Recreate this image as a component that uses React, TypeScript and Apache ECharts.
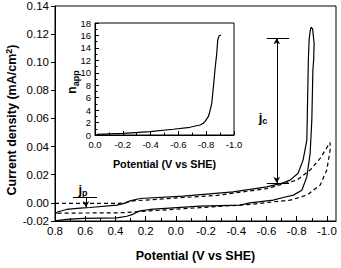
import React, { useEffect, useRef } from "react";
import * as echarts from "echarts";

// Main CV: solid loop (potential V vs SHE, current density mA/cm2)
const solidV = [0.80, 0.78, 0.723, 0.634, 0.568, 0.391, 0.336, 0.303, 0.237, -0.048, -0.379, -0.602, -0.710, -0.756, -0.809, -0.842, -0.867, -0.872, -0.877, -0.882, -0.889, -0.895, -0.905, -0.915, -0.912, -0.907, -0.900, -0.889, -0.867, -0.834, -0.778, -0.710, -0.644, -0.491, -0.425, -0.160, 0.171, 0.237, 0.259, 0.290, 0.325, 0.391, 0.613, 0.723, 0.80];
const solidJ = [-0.0080, -0.0063, -0.0047, -0.0038, -0.0033, -0.0016, -0.0002, 0.0014, 0.0031, 0.0048, 0.0078, 0.0114, 0.0142, 0.0162, 0.0211, 0.0304, 0.0446, 0.0731, 0.1016, 0.1158, 0.1222, 0.1249, 0.1237, 0.1135, 0.1016, 0.0945, 0.0589, 0.0354, 0.0185, 0.0090, 0.0055, 0.0038, 0.0019, 0.0000, -0.0016, -0.0023, -0.0047, -0.0057, -0.0066, -0.0084, -0.0095, -0.0107, -0.0111, -0.0118, -0.0128];

// dashed loop
const dashV = [0.80, 0.391, 0.336, 0.283, 0.171, -0.048, -0.271, -0.491, -0.602, -0.644, -0.801, -0.889, -0.955, -1.010, -1.021, -1.021, -0.999, -0.955, -0.867, -0.756, -0.644, -0.491, -0.160, 0.171, 0.237, 0.283, 0.336, 0.391, 0.767, 0.80];
const dashJ = [-0.0004, -0.0004, 0.0001, 0.0014, 0.0022, 0.0038, 0.0053, 0.0085, 0.0101, 0.0114, 0.0162, 0.0233, 0.0316, 0.0411, 0.0429, 0.0375, 0.0233, 0.0126, 0.0055, 0.0019, 0.0007, -0.0011, -0.0034, -0.0057, -0.0061, -0.0065, -0.0069, -0.0071, -0.0073, -0.0077];

// inset: n_app vs potential
const insetV = [-0.012, -0.204, -0.396, -0.563, -0.683, -0.755, -0.779, -0.791, -0.815, -0.823, -0.840, -0.852, -0.863, -0.876, -0.883, -0.892, -0.906];
const insetN = [0.11, 0.27, 0.53, 0.92, 1.24, 1.61, 1.88, 2.14, 2.94, 3.49, 5.1, 7.77, 10.45, 13.13, 15.27, 15.92, 16.08];

// axis ticks
const xMajor = [-1.0, -0.8, -0.6, -0.4, -0.2, 0.0, 0.2, 0.4, 0.6, 0.8];
const xMinor = [-0.9, -0.7, -0.5, -0.3, -0.1, 0.1, 0.3, 0.5, 0.7];
const yMain = [-0.0129, 0.0, 0.02, 0.04, 0.06, 0.08, 0.10, 0.12, 0.14];
const yMainLabels = ["-0.02", "0.00", "0.02", "0.04", "0.06", "0.08", "0.10", "0.12", "0.14"];

// annotations (data coordinates)
const jcV = -0.668, jcLow = 0.0142, jcHigh = 0.117, jcBarL = -0.602, jcBarR = -0.750;
const jpV = 0.595, jpTop = 0.0043, jpBottom = -0.0031, jpBarL = 0.681, jpBarR = 0.522;

const FONT = "Liberation Sans, Arial, sans-serif";

function zip(a: number[], b: number[]) {
  return a.map((v, i) => [v, b[i]]);
}

export default function App() {
  const ref = useRef<HTMLDivElement>(null);
  useEffect(() => {
    const chart = echarts.init(ref.current!, undefined, { renderer: "svg" });
    const seg = (x1: number, y1: number, x2: number, y2: number, s1: string, s2: string) => [
      { coord: [x1, y1], symbol: s1 },
      { coord: [x2, y2], symbol: s2 },
    ];
    const axisLine = { onZero: false, lineStyle: { color: "#000", width: 1 } };
    chart.setOption({
      animation: false,
      backgroundColor: "#fff",
      grid: [
        { left: 55, top: 6, width: 281, height: 215, show: true, borderColor: "#000", borderWidth: 1, containLabel: false },
        { left: 95, top: 23, width: 139, height: 112, show: true, borderColor: "#000", borderWidth: 1, backgroundColor: "#fff", containLabel: false },
      ],
      xAxis: [
        {
          type: "value", gridIndex: 0, min: -1.06, max: 0.8, inverse: true,
          axisLine,
          axisTick: { inside: true, length: 5, customValues: xMajor, lineStyle: { color: "#000" } },
          axisLabel: {
            customValues: xMajor, color: "#000", fontSize: 11.5, fontFamily: FONT, margin: 4,
            formatter: (v: number) => (Math.abs(v) < 1e-9 ? "0.0" : v.toFixed(1)),
          },
          splitLine: { show: false },
          name: "Potential (V vs SHE)", nameLocation: "middle", nameGap: 28,
          nameTextStyle: { fontSize: 12.5, fontWeight: "bold", fontFamily: FONT, color: "#000" },
        },
        {
          type: "value", gridIndex: 0, min: -1.06, max: 0.8, inverse: true, position: "bottom",
          axisLine: { show: false, onZero: false },
          axisTick: { inside: true, length: 3, customValues: xMinor, lineStyle: { color: "#000" } },
          axisLabel: { show: false },
          splitLine: { show: false },
        },
        {
          type: "value", gridIndex: 1, min: -1.0, max: 0.0, interval: 0.2, inverse: true,
          axisLine,
          axisTick: { inside: true, length: 4, lineStyle: { color: "#000" } },
          minorTick: { show: true, splitNumber: 2, length: 2.5, lineStyle: { color: "#000" } },
          axisLabel: {
            color: "#000", fontSize: 9.5, fontFamily: FONT, margin: 4,
            formatter: (v: number) => (Math.abs(v) < 1e-9 ? "0.0" : v.toFixed(1)),
          },
          splitLine: { show: false },
          name: "Potential (V vs SHE)", nameLocation: "middle", nameGap: 23,
          nameTextStyle: { fontSize: 10.8, fontWeight: "bold", fontFamily: FONT, color: "#000" },
        },
      ],
      yAxis: [
        {
          type: "value", gridIndex: 0, min: -0.0129, max: 0.14,
          axisLine,
          axisTick: { inside: false, length: 4, customValues: yMain, lineStyle: { color: "#000" } },
          axisLabel: {
            customValues: yMain, color: "#000", fontSize: 11.5, fontFamily: FONT, margin: 6,
            formatter: (v: number) => {
              const i = yMain.findIndex((t) => Math.abs(t - v) < 1e-6);
              return i >= 0 ? yMainLabels[i] : "";
            },
          },
          splitLine: { show: false },
        },
        {
          type: "value", gridIndex: 1, min: 0, max: 18, interval: 2,
          axisLine,
          axisTick: { inside: true, length: 4, lineStyle: { color: "#000" } },
          minorTick: { show: true, splitNumber: 2, length: 2.5, lineStyle: { color: "#000" } },
          axisLabel: { color: "#000", fontSize: 9.5, fontFamily: FONT, margin: 4 },
          splitLine: { show: false },
        },
      ],
      series: [
        {
          type: "line", xAxisIndex: 0, yAxisIndex: 0, data: zip(solidV, solidJ),
          showSymbol: false, symbol: "none", lineStyle: { color: "#000", width: 1.2 }, silent: true,
          markLine: {
            silent: true, animation: false, symbolSize: [5, 6],
            label: { show: false },
            lineStyle: { color: "#000", width: 1, type: "solid" },
            data: [
              seg(jcV, jcLow, jcV, jcHigh, "arrow", "arrow"),
              seg(jcBarL, jcHigh, jcBarR, jcHigh, "none", "none"),
              seg(jcBarL, jcLow, jcBarR, jcLow, "none", "none"),
              seg(jpV, jpTop, jpV, jpBottom, "none", "arrow"),
              seg(jpBarL, jpTop, jpBarR, jpTop, "none", "none"),
            ],
          },
        },
        {
          type: "line", xAxisIndex: 0, yAxisIndex: 0, data: zip(dashV, dashJ),
          showSymbol: false, symbol: "none", lineStyle: { color: "#000", width: 1.2, type: [4, 3] }, silent: true,
        },
        {
          type: "line", xAxisIndex: 2, yAxisIndex: 1, data: zip(insetV, insetN),
          showSymbol: false, symbol: "none", lineStyle: { color: "#000", width: 1.2 }, silent: true,
        },
      ],
      graphic: [
        {
          type: "text", x: 12, y: 120, rotation: Math.PI / 2,
          style: {
            text: "{a|Current density (mA/cm}{s|2}{a|)}",
            align: "center", verticalAlign: "middle",
            rich: {
              a: { fontSize: 12.5, fontWeight: "bold", fontFamily: FONT, fill: "#000", lineHeight: 16 },
              s: { fontSize: 9, fontWeight: "bold", fontFamily: FONT, fill: "#000", verticalAlign: "top", lineHeight: 16 },
            },
          },
        },
        {
          type: "text", x: 72, y: 82, rotation: Math.PI / 2,
          style: {
            text: "{a|n}{s|app}",
            align: "center", verticalAlign: "middle",
            rich: {
              a: { fontSize: 12, fontWeight: "bold", fontFamily: FONT, fill: "#000", lineHeight: 16 },
              s: { fontSize: 9, fontWeight: "bold", fontFamily: FONT, fill: "#000", verticalAlign: "bottom", lineHeight: 16 },
            },
          },
        },
        {
          type: "text", x: 263, y: 117,
          style: {
            text: "{a|j}{s|c}", align: "center", verticalAlign: "middle",
            rich: {
              a: { fontSize: 13, fontWeight: "bold", fontFamily: FONT, fill: "#000", lineHeight: 16 },
              s: { fontSize: 9, fontWeight: "bold", fontFamily: FONT, fill: "#000", verticalAlign: "bottom", lineHeight: 16 },
            },
          },
        },
        {
          type: "text", x: 83, y: 189,
          style: {
            text: "{a|j}{s|p}", align: "center", verticalAlign: "middle",
            rich: {
              a: { fontSize: 13, fontWeight: "bold", fontFamily: FONT, fill: "#000", lineHeight: 16 },
              s: { fontSize: 9, fontWeight: "bold", fontFamily: FONT, fill: "#000", verticalAlign: "bottom", lineHeight: 16 },
            },
          },
        },
      ],
    });
    return () => chart.dispose();
  }, []);
  return (
    <div
      ref={ref}
      style={{ position: "fixed", left: 0, top: 0, width: 341, height: 268, background: "#fff" }}
    />
  );
}
